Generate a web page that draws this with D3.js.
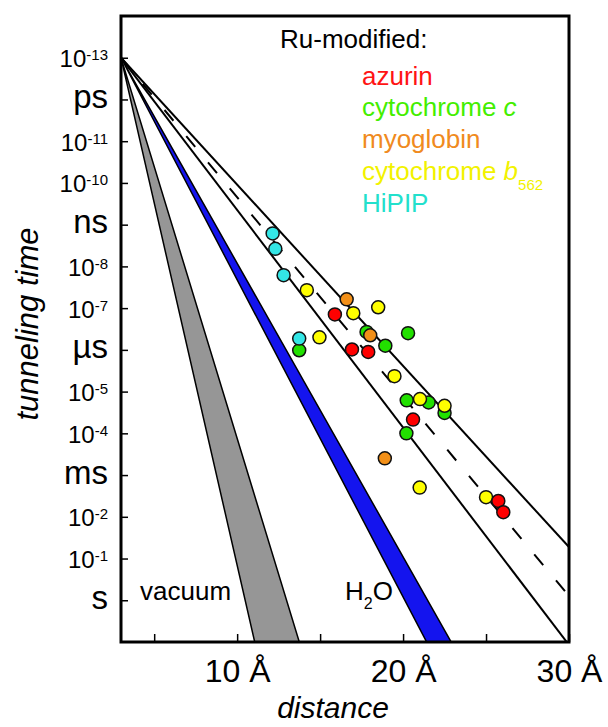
<!DOCTYPE html>
<html>
<head>
<meta charset="utf-8">
<script src="https://cdn.jsdelivr.net/npm/d3@7"></script>
<style>
body { margin: 0; background: #fff; }
text { font-family: "Liberation Sans", Arial, sans-serif; }
</style>
</head>
<body>
<svg id="chart" width="608" height="727"></svg>
<script>
// points: [distance in Å, log10 of tunneling time in s]
var azurin = [[15.89,-6.85],[16.92,-6.01],[17.90,-5.95],[20.60,-4.33],[25.74,-2.38],[26.04,-2.11]];
var cytC = [[13.74,-5.99],[17.80,-6.43],[20.30,-6.40],[18.93,-6.10],[20.22,-4.79],[21.54,-4.74],[22.50,-4.49],[20.20,-4.00]];
var myoglobin = [[16.60,-7.21],[18.02,-6.35],[18.90,-3.40]];
var cytB562 = [[14.20,-7.43],[18.50,-7.02],[17.00,-6.88],[14.96,-6.30],[19.48,-5.37],[21.02,-4.82],[22.50,-4.66],[21.00,-2.70],[25.00,-2.47]];
var hipip = [[12.14,-8.79],[12.30,-8.42],[12.80,-7.79],[13.74,-6.27]];

// decay constants (1/Å), all lines start at 3 Å, 10^-13 s
var vacuumBeta = [3.0, 4.0];
var waterBeta = [1.62, 1.75];
var proteinBeta = [1.0, 1.1, 1.2];

var xTicks = [5, 10, 15, 20, 25, 30];
var xTickLabels = ["", "10 Å", "", "20 Å", "", "30 Å"];
var yTicks = [-13, -12, -11, -10, -9, -8, -7, -6, -5, -4, -3, -2, -1, 0];
var yTickLabels = ["10^-13", "ps", "10^-11", "10^-10", "ns", "10^-8", "10^-7", "µs", "10^-5", "10^-4", "ms", "10^-2", "10^-1", "s"];

var svg = d3.select("#chart");
var x = d3.scaleLinear().domain([3, 30]).range([121, 569]);
var y = d3.scaleLog().domain([1e-14, 10]).range([16, 642]);

function decay(beta, r) { return Math.pow(10, -13 + beta * (r - 3) / Math.LN10); }
var line = d3.line().x(function(d) { return x(d[0]); }).y(function(d) { return y(d[1]); });

svg.append("clipPath").attr("id", "plot").append("rect")
  .attr("x", x(3)).attr("y", y(1e-14)).attr("width", x(30) - x(3)).attr("height", y(10) - y(1e-14));

var plot = svg.append("g").attr("clip-path", "url(#plot)");

function wedge(b, fill) {
  plot.append("path")
    .attr("d", line([[3, decay(b[0], 3)], [30, decay(b[0], 30)], [30, decay(b[1], 30)]]) + "Z")
    .attr("fill", fill).attr("stroke", "#000").attr("stroke-width", 1.5);
}
wedge(vacuumBeta, "#969696");
wedge(waterBeta, "#1414ee");

proteinBeta.forEach(function(b, i) {
  plot.append("path")
    .attr("d", line([[3, decay(b, 3)], [30, decay(b, 30)]]))
    .attr("fill", "none").attr("stroke", "#000").attr("stroke-width", 2)
    .attr("stroke-dasharray", i == 1 ? "14,20" : null);
});

var series = [
  { data: cytC, color: "#22e000" },
  { data: cytB562, color: "#ffff00" },
  { data: myoglobin, color: "#f39018" },
  { data: azurin, color: "#ff0000" },
  { data: hipip, color: "#33e6e6" }
];
series.forEach(function(s) {
  plot.selectAll(null).data(s.data).enter().append("circle")
    .attr("cx", function(d) { return x(d[0]); })
    .attr("cy", function(d) { return y(Math.pow(10, d[1])); })
    .attr("r", 6.5)
    .attr("fill", s.color).attr("stroke", "#111").attr("stroke-width", 1.5);
});

// axes
var gy = svg.append("g").attr("transform", "translate(" + x(3) + ",0)")
  .call(d3.axisLeft(y).tickValues(yTicks.map(function(e) { return Math.pow(10, e); }))
    .tickSizeInner(-7).tickSizeOuter(0).tickPadding(13).tickFormat(""));
gy.select(".domain").remove();
gy.selectAll(".tick line").attr("stroke", "#000").attr("stroke-width", 1.5);
gy.selectAll(".tick text").each(function(d, i) {
  var t = d3.select(this).attr("fill", "#000").attr("font-family", null);
  var parts = yTickLabels[i].split("^");
  if (parts.length > 1) {
    t.attr("font-size", 24).attr("dy", null).attr("y", 9);
    t.append("tspan").text(parts[0]);
    t.append("tspan").attr("font-size", 15).attr("dy", -7).text(parts[1]);
  } else {
    t.attr("font-size", 33).attr("dy", null).attr("y", 8).text(parts[0]);
  }
});

var gx = svg.append("g").attr("transform", "translate(0," + y(10) + ")")
  .call(d3.axisBottom(x).tickValues(xTicks).tickSizeInner(-8).tickSizeOuter(0).tickPadding(17)
    .tickFormat(function(d, i) { return xTickLabels[i]; }));
gx.select(".domain").remove();
gx.selectAll(".tick line").attr("stroke", "#000").attr("stroke-width", 1.5);
gx.selectAll(".tick text").attr("fill", "#000").attr("font-family", null).attr("font-size", 32);

// frame
svg.append("rect").attr("x", x(3)).attr("y", y(1e-14)).attr("width", x(30) - x(3)).attr("height", y(10) - y(1e-14))
  .attr("fill", "none").attr("stroke", "#000").attr("stroke-width", 3);

// axis titles
svg.append("text").attr("transform", "translate(38,324) rotate(-90)").attr("text-anchor", "middle")
  .attr("font-size", 31).attr("font-style", "italic").text("tunneling time");
svg.append("text").attr("x", 333).attr("y", 718).attr("text-anchor", "middle")
  .attr("font-size", 30).attr("font-style", "italic").text("distance");

// legend
svg.append("text").attr("x", 280).attr("y", 48).attr("font-size", 26).text("Ru-modified:");
var leg = [
  { name: "azurin", color: "#ff1414" },
  { name: "cytochrome ", it: "c", color: "#44ee00" },
  { name: "myoglobin", color: "#f08a20" },
  { name: "cytochrome ", it: "b", sub: "562", color: "#f2f200" },
  { name: "HiPIP", color: "#22e0cc" }
];
leg.forEach(function(l, i) {
  var t = svg.append("text").attr("x", 362).attr("y", 84.5 + i * 31.8).attr("font-size", 26).attr("fill", l.color);
  t.append("tspan").text(l.name);
  if (l.it) t.append("tspan").attr("font-style", "italic").text(l.it);
  if (l.sub) t.append("tspan").attr("font-size", 15).attr("dy", 10).text(l.sub);
});

// band labels
svg.append("text").attr("x", 140).attr("y", 600).attr("font-size", 26).text("vacuum");
var h2o = svg.append("text").attr("x", 345).attr("y", 600).attr("font-size", 26);
h2o.append("tspan").text("H");
h2o.append("tspan").attr("font-size", 16).attr("dy", 9).text("2");
h2o.append("tspan").attr("dy", -9).text("O");
</script>
</body>
</html>
